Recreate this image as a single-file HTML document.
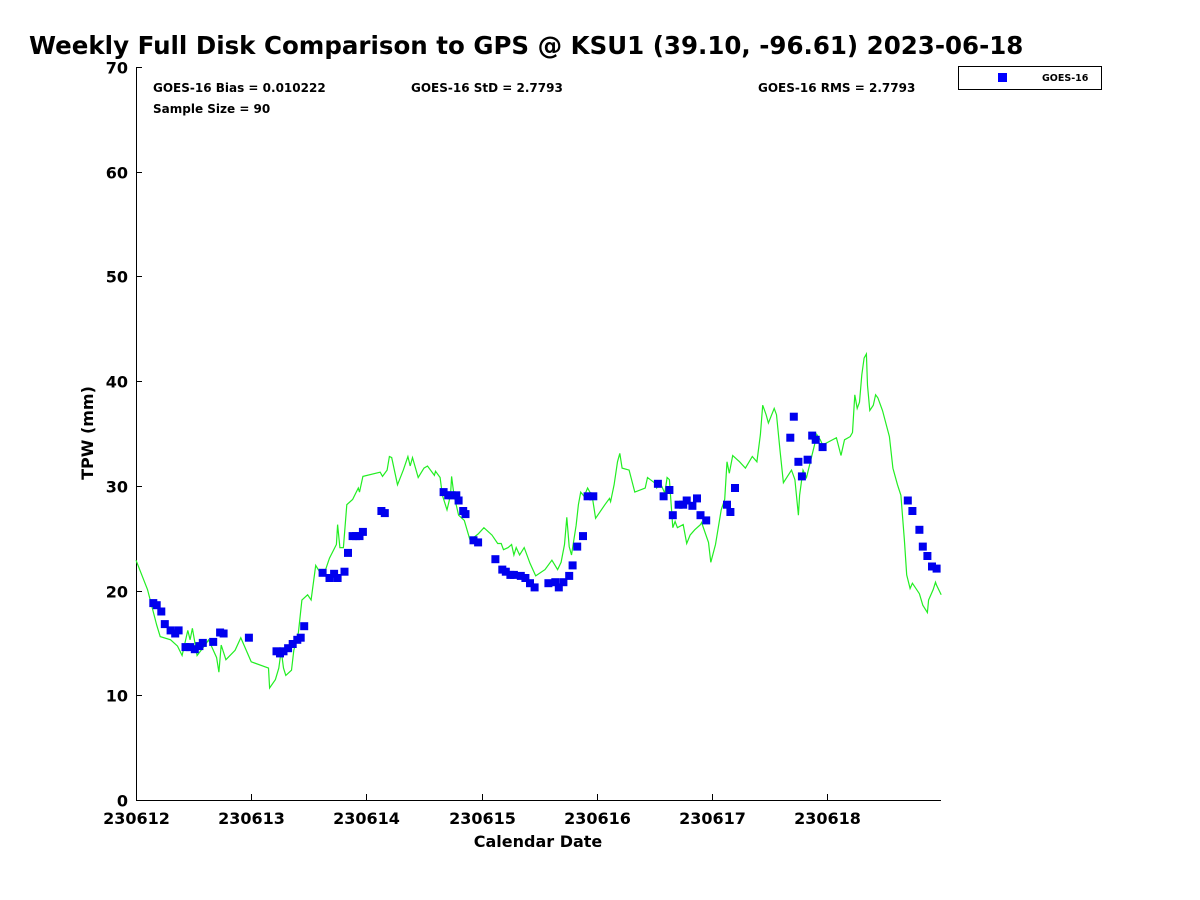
<!DOCTYPE html>
<html><head><meta charset="utf-8"><style>
body{margin:0;background:#fff;}
svg{display:block;font-family:"DejaVu Sans","Liberation Sans",sans-serif;font-weight:bold;}
</style></head><body>
<svg id="chart" width="1200" height="900" viewBox="0 0 1200 900">
<text x="29" y="54" font-size="24.5" fill="#000">Weekly Full Disk Comparison to GPS @ KSU1 (39.10, -96.61) 2023-06-18</text>
<g id="axes"></g>
<g id="series"></g>
<text x="153" y="92" font-size="12">GOES-16 Bias = 0.010222</text>
<text x="153" y="113" font-size="12">Sample Size = 90</text>
<text x="411" y="92" font-size="12">GOES-16 StD = 2.7793</text>
<text x="758" y="92" font-size="12">GOES-16 RMS = 2.7793</text>
<g>
<rect x="958.5" y="66.5" width="143" height="23" fill="#fff" stroke="#000" stroke-width="1"/>
<rect x="998" y="73" width="9" height="9" fill="#0000ff"/>
<text x="1042" y="81" font-size="9.5">GOES-16</text>
</g>
<text x="538" y="847" font-size="16" text-anchor="middle">Calendar Date</text>
<text transform="translate(93,433) rotate(-90)" font-size="16" text-anchor="middle">TPW (mm)</text>
</svg>
<script>
const xTickLabels=["230612","230613","230614","230615","230616","230617","230618"];
const yTicks=[0,10,20,30,40,50,60,70];
const gpsDays=[0,.10,.18,.21,.30,.36,.40,.45,.47,.49,.53,.60,.63,.70,.72,.74,.78,.86,.91,1.00,1.15,1.16,1.21,1.24,1.26,1.28,1.30,1.35,1.37,1.41,1.44,1.49,1.52,1.56,1.61,1.63,1.68,1.74,1.75,1.77,1.80,1.83,1.88,1.93,1.94,1.97,2.12,2.14,2.18,2.20,2.22,2.27,2.32,2.36,2.38,2.40,2.45,2.50,2.53,2.59,2.60,2.64,2.66,2.70,2.73,2.74,2.76,2.80,2.85,2.90,2.97,3.02,3.09,3.14,3.17,3.19,3.23,3.26,3.28,3.30,3.33,3.37,3.42,3.47,3.55,3.61,3.66,3.69,3.72,3.74,3.76,3.78,3.82,3.84,3.86,3.89,3.92,3.96,3.99,4.07,4.11,4.12,4.15,4.18,4.20,4.22,4.28,4.33,4.42,4.44,4.50,4.52,4.55,4.59,4.61,4.63,4.66,4.68,4.70,4.75,4.78,4.81,4.85,4.90,4.91,4.97,4.99,5.03,5.08,5.11,5.13,5.15,5.18,5.24,5.29,5.35,5.39,5.42,5.44,5.47,5.49,5.54,5.56,5.59,5.62,5.69,5.72,5.75,5.76,5.79,5.82,5.84,5.89,5.91,5.94,5.96,6.08,6.12,6.15,6.20,6.22,6.24,6.26,6.28,6.30,6.32,6.34,6.35,6.37,6.40,6.42,6.44,6.48,6.54,6.57,6.61,6.64,6.67,6.69,6.72,6.74,6.80,6.83,6.87,6.88,6.92,6.94,6.95,6.99];
const gpsTpw=[22.9,20.1,16.7,15.6,15.3,14.7,13.8,16.2,15.3,16.4,13.8,14.8,15.3,13.6,12.2,14.8,13.4,14.3,15.5,13.2,12.6,10.7,11.5,12.6,14.3,12.6,11.9,12.4,14.3,16.0,19.1,19.6,19.1,22.4,21.5,21.5,23.1,24.4,26.3,24.1,24.1,28.2,28.7,29.8,29.4,30.9,31.3,30.9,31.5,32.8,32.7,30.1,31.5,32.8,31.9,32.7,30.8,31.7,31.9,31.0,31.4,30.8,29.1,27.7,29.1,30.9,29.1,27.2,26.7,24.8,25.4,26.0,25.3,24.5,24.5,23.9,24.1,24.4,23.4,24.1,23.4,24.1,22.6,21.4,22.0,22.9,22.0,22.7,24.4,27.0,24.2,23.4,26.2,28.2,29.4,29.0,29.8,29.0,26.9,28.2,28.8,28.5,30.1,32.3,33.1,31.7,31.5,29.4,29.8,30.8,30.3,29.8,30.3,29.3,30.8,30.6,26.0,26.6,26.0,26.3,24.5,25.3,25.8,26.3,26.5,24.6,22.7,24.4,27.7,28.7,32.3,31.2,32.9,32.3,31.7,32.8,32.3,34.9,37.7,36.8,36.0,37.4,36.8,33.4,30.3,31.5,30.6,27.2,29.1,31.5,30.8,31.7,33.9,34.9,34.4,33.9,34.6,32.9,34.4,34.7,35.1,38.7,37.4,38.0,40.6,42.2,42.6,39.6,37.2,37.7,38.7,38.4,37.2,34.7,31.7,30.1,29.1,24.8,21.5,20.2,20.7,19.7,18.6,17.9,19.1,20.1,20.8,20.5,19.6];
const goesDays=[.15,.18,.22,.25,.30,.34,.37,.43,.47,.51,.55,.58,.67,.73,.76,.98,1.22,1.25,1.28,1.32,1.36,1.40,1.43,1.46,1.62,1.68,1.72,1.75,1.81,1.84,1.88,1.91,1.94,1.97,2.13,2.16,2.67,2.71,2.74,2.78,2.80,2.84,2.86,2.93,2.97,3.12,3.18,3.21,3.25,3.28,3.34,3.38,3.42,3.46,3.58,3.64,3.67,3.71,3.76,3.79,3.83,3.88,3.92,3.97,4.53,4.58,4.63,4.66,4.71,4.75,4.78,4.83,4.87,4.90,4.95,5.13,5.16,5.20,5.68,5.71,5.75,5.78,5.83,5.87,5.90,5.96,6.70,6.74,6.80,6.83,6.87,6.91,6.95];
const goesTpw=[18.8,18.6,18.0,16.8,16.2,15.9,16.2,14.6,14.6,14.4,14.7,15.0,15.1,16.0,15.9,15.5,14.2,14.0,14.2,14.5,14.9,15.3,15.5,16.6,21.7,21.2,21.6,21.2,21.8,23.6,25.2,25.2,25.2,25.6,27.6,27.4,29.4,29.1,29.1,29.1,28.6,27.6,27.3,24.8,24.6,23.0,22.0,21.8,21.5,21.5,21.4,21.2,20.7,20.3,20.7,20.8,20.3,20.8,21.4,22.4,24.2,25.2,29.0,29.0,30.2,29.0,29.6,27.2,28.2,28.2,28.6,28.1,28.8,27.2,26.7,28.2,27.5,29.8,34.6,36.6,32.3,30.9,32.5,34.8,34.4,33.7,28.6,27.6,25.8,24.2,23.3,22.3,22.1];

const NS="http://www.w3.org/2000/svg";
const X0=136,X1=941,Y0=800,Y1=67,DAYPX=115.2;
const xs=d=>X0+d*DAYPX;
const ys=v=>Y0-(v/70)*(Y0-Y1);
function mk(tag,attrs,parent){const e=document.createElementNS(NS,tag);for(const k in attrs)e.setAttribute(k,attrs[k]);parent.appendChild(e);return e;}
const axes=document.getElementById('axes'),series=document.getElementById('series');
let a=mk('path',{d:`M${X0+.5},${Y1} V${Y0+.5} H${X1}`,fill:'none',stroke:'#000','stroke-width':1},axes);


yTicks.forEach(v=>{
  const y=Math.round(ys(v))+.5;
  const t=mk('line',{x1:X0,x2:X0+6,y1:y,y2:y,stroke:'#000'},axes);
  
  
  const l=mk('text',{x:X0-8,y:y+6,'font-size':16,'text-anchor':'end'},axes);
  l.textContent=String(v);
  
  
});
xTickLabels.forEach((s,i)=>{
  const x=Math.round(xs(i))+.5;
  const t=mk('line',{x1:x,x2:x,y1:Y0,y2:Y0-6,stroke:'#000'},axes);
  
  
  const l=mk('text',{x:x,y:Y0+24,'font-size':16,'text-anchor':'middle'},axes);
  l.textContent=s;
  
  
});
const pts=gpsDays.map((d,i)=>xs(d).toFixed(1)+','+ys(gpsTpw[i]).toFixed(1)).join(' ');
const line=mk('polyline',{points:pts,fill:'none',stroke:'#22ee22','stroke-width':1.2},series);


goesDays.forEach((d,i)=>{
  const r=mk('rect',{x:(xs(d)-4).toFixed(1),y:(ys(goesTpw[i])-4).toFixed(1),width:8,height:8,fill:'#0000ee'},series);
  
  
});
</script>
</body></html>
